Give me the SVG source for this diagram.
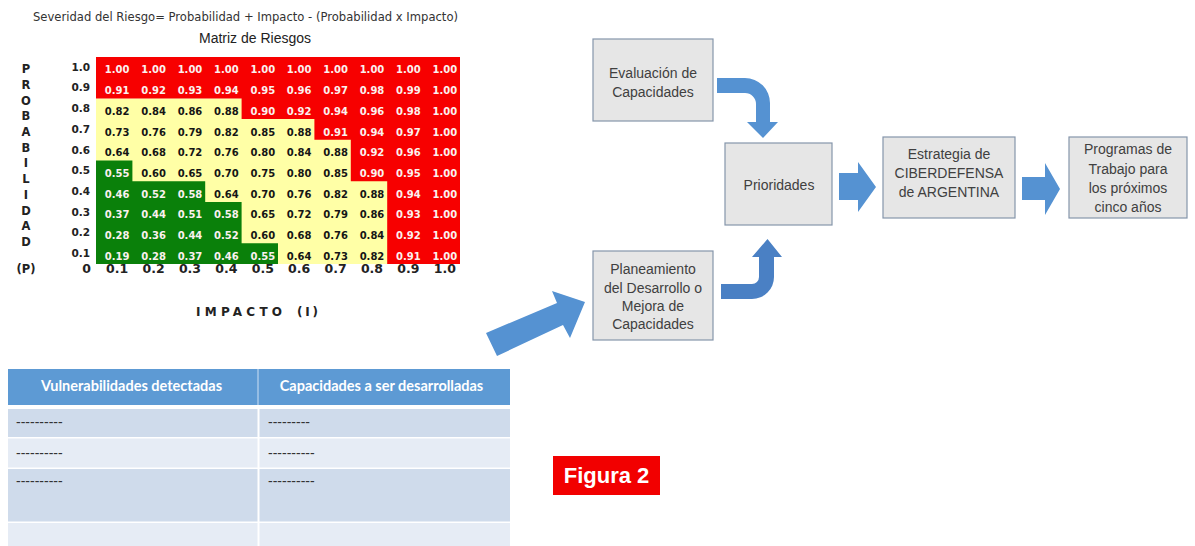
<svg xmlns="http://www.w3.org/2000/svg" width="1195" height="546" viewBox="0 0 1195 546">
<style>
.cell{font-family:"DejaVu Sans",sans-serif;font-weight:bold;font-size:10px;text-anchor:middle}
.lt{fill:#fbf1ef}
.dk{fill:#151515}
.rl{font-family:"DejaVu Sans",sans-serif;font-weight:bold;font-size:10.5px;text-anchor:end;fill:#222}
.cl{font-family:"DejaVu Sans",sans-serif;font-weight:bold;font-size:12.5px;text-anchor:middle;fill:#222}
.pl{font-family:"DejaVu Sans",sans-serif;font-weight:bold;font-size:11.5px;text-anchor:middle;fill:#222}
.box{fill:#e6e6e6;stroke:#8596ab;stroke-width:1.2}
.bt{font-family:"Liberation Sans",Arial,sans-serif;font-size:14px;fill:#404040;text-anchor:middle}
.arr{fill:#5592d2}
.th{font-family:Lato,"Liberation Sans",sans-serif;font-weight:bold;font-size:14.5px;fill:#ffffff;text-anchor:middle}
.ds{font-family:"Liberation Sans",Arial,sans-serif;font-size:14px;fill:#333}
</style>
<rect width="1195" height="546" fill="#ffffff"/>

<g id="matriz">
<text x="33" y="21" font-family="DejaVu Sans,sans-serif" font-size="12" fill="#333" textLength="425" lengthAdjust="spacingAndGlyphs">Severidad del Riesgo= Probabilidad + Impacto - (Probabilidad x Impacto)</text>
<text x="255" y="43" font-family="Liberation Sans,Arial,sans-serif" font-size="14" fill="#222" text-anchor="middle">Matriz de Riesgos</text>
<rect x="96" y="98.4" width="364" height="165.6" fill="#ffffa6"/>
<polygon fill="#f70000" points="96,57 460,57 460,264 387.2,264 387.2,181.2 350.8,181.2 350.8,139.8 314.4,139.8 314.4,119.1 241.6,119.1 241.6,98.4 96,98.4"/>
<polygon fill="#0a800a" points="96,160.5 132.4,160.5 132.4,181.2 205.2,181.2 205.2,201.9 241.6,201.9 241.6,243.3 278,243.3 278,264 96,264"/>
<g class="cell lt">
<text x="117.2" y="73.4">1.00</text><text x="153.6" y="73.4">1.00</text><text x="190" y="73.4">1.00</text><text x="226.4" y="73.4">1.00</text><text x="262.8" y="73.4">1.00</text><text x="299.2" y="73.4">1.00</text><text x="335.6" y="73.4">1.00</text><text x="372" y="73.4">1.00</text><text x="408.4" y="73.4">1.00</text><text x="444.8" y="73.4">1.00</text>
<text x="117.2" y="94.1">0.91</text><text x="153.6" y="94.1">0.92</text><text x="190" y="94.1">0.93</text><text x="226.4" y="94.1">0.94</text><text x="262.8" y="94.1">0.95</text><text x="299.2" y="94.1">0.96</text><text x="335.6" y="94.1">0.97</text><text x="372" y="94.1">0.98</text><text x="408.4" y="94.1">0.99</text><text x="444.8" y="94.1">1.00</text>
<text x="262.8" y="114.8">0.90</text><text x="299.2" y="114.8">0.92</text><text x="335.6" y="114.8">0.94</text><text x="372" y="114.8">0.96</text><text x="408.4" y="114.8">0.98</text><text x="444.8" y="114.8">1.00</text>
<text x="335.6" y="135.5">0.91</text><text x="372" y="135.5">0.94</text><text x="408.4" y="135.5">0.97</text><text x="444.8" y="135.5">1.00</text>
<text x="372" y="156.2">0.92</text><text x="408.4" y="156.2">0.96</text><text x="444.8" y="156.2">1.00</text>
<text x="117.2" y="176.9">0.55</text><text x="372" y="176.9">0.90</text><text x="408.4" y="176.9">0.95</text><text x="444.8" y="176.9">1.00</text>
<text x="117.2" y="197.6">0.46</text><text x="153.6" y="197.6">0.52</text><text x="190" y="197.6">0.58</text><text x="408.4" y="197.6">0.94</text><text x="444.8" y="197.6">1.00</text>
<text x="117.2" y="218.3">0.37</text><text x="153.6" y="218.3">0.44</text><text x="190" y="218.3">0.51</text><text x="226.4" y="218.3">0.58</text><text x="408.4" y="218.3">0.93</text><text x="444.8" y="218.3">1.00</text>
<text x="117.2" y="239">0.28</text><text x="153.6" y="239">0.36</text><text x="190" y="239">0.44</text><text x="226.4" y="239">0.52</text><text x="408.4" y="239">0.92</text><text x="444.8" y="239">1.00</text>
<text x="117.2" y="259.7">0.19</text><text x="153.6" y="259.7">0.28</text><text x="190" y="259.7">0.37</text><text x="226.4" y="259.7">0.46</text><text x="262.8" y="259.7">0.55</text><text x="408.4" y="259.7">0.91</text><text x="444.8" y="259.7">1.00</text>
</g>
<g class="cell dk">
<text x="117.2" y="114.8">0.82</text><text x="153.6" y="114.8">0.84</text><text x="190" y="114.8">0.86</text><text x="226.4" y="114.8">0.88</text>
<text x="117.2" y="135.5">0.73</text><text x="153.6" y="135.5">0.76</text><text x="190" y="135.5">0.79</text><text x="226.4" y="135.5">0.82</text><text x="262.8" y="135.5">0.85</text><text x="299.2" y="135.5">0.88</text>
<text x="117.2" y="156.2">0.64</text><text x="153.6" y="156.2">0.68</text><text x="190" y="156.2">0.72</text><text x="226.4" y="156.2">0.76</text><text x="262.8" y="156.2">0.80</text><text x="299.2" y="156.2">0.84</text><text x="335.6" y="156.2">0.88</text>
<text x="153.6" y="176.9">0.60</text><text x="190" y="176.9">0.65</text><text x="226.4" y="176.9">0.70</text><text x="262.8" y="176.9">0.75</text><text x="299.2" y="176.9">0.80</text><text x="335.6" y="176.9">0.85</text>
<text x="226.4" y="197.6">0.64</text><text x="262.8" y="197.6">0.70</text><text x="299.2" y="197.6">0.76</text><text x="335.6" y="197.6">0.82</text><text x="372" y="197.6">0.88</text>
<text x="262.8" y="218.3">0.65</text><text x="299.2" y="218.3">0.72</text><text x="335.6" y="218.3">0.79</text><text x="372" y="218.3">0.86</text>
<text x="262.8" y="239">0.60</text><text x="299.2" y="239">0.68</text><text x="335.6" y="239">0.76</text><text x="372" y="239">0.84</text>
<text x="299.2" y="259.7">0.64</text><text x="335.6" y="259.7">0.73</text><text x="372" y="259.7">0.82</text>
</g>
<g class="rl">
<text x="90" y="70.7">1.0</text><text x="90" y="91.4">0.9</text><text x="90" y="112.1">0.8</text><text x="90" y="132.8">0.7</text><text x="90" y="153.5">0.6</text><text x="90" y="174.2">0.5</text><text x="90" y="194.9">0.4</text><text x="90" y="215.6">0.3</text><text x="90" y="236.3">0.2</text><text x="90" y="257">0.1</text>
</g>
<g class="cl">
<text x="86.5" y="273">0</text>
<text x="117.2" y="273">0.1</text><text x="153.6" y="273">0.2</text><text x="190" y="273">0.3</text><text x="226.4" y="273">0.4</text><text x="262.8" y="273">0.5</text><text x="299.2" y="273">0.6</text><text x="335.6" y="273">0.7</text><text x="372" y="273">0.8</text><text x="408.4" y="273">0.9</text><text x="444.8" y="273">1.0</text>
</g>
<g class="pl">
<text x="26" y="73">P</text><text x="26" y="88.7">R</text><text x="26" y="104.5">O</text><text x="26" y="120.2">B</text><text x="26" y="135.9">A</text><text x="26" y="151.7">B</text><text x="26" y="167.4">I</text><text x="26" y="183.1">L</text><text x="26" y="198.8">I</text><text x="26" y="214.6">D</text><text x="26" y="230.3">A</text><text x="26" y="246">D</text>
<text x="26" y="273">(P)</text>
</g>
<text x="196" y="316" font-family="DejaVu Sans,sans-serif" font-weight="bold" font-size="12" fill="#222" textLength="86" lengthAdjust="spacing">IMPACTO</text>
<text x="297" y="316" font-family="DejaVu Sans,sans-serif" font-weight="bold" font-size="12" fill="#222" textLength="21" lengthAdjust="spacing">(I)</text>
</g>

<g id="tabla">
<rect x="8" y="369" width="502" height="36" fill="#5d9ad4"/>
<line x1="258" y1="369" x2="258" y2="405" stroke="#a9c8ea" stroke-width="1.5"/>
<text class="th" x="131.5" y="391">Vulnerabilidades detectadas</text>
<text class="th" x="381.5" y="391">Capacidades a ser desarrolladas</text>
<rect x="8" y="409" width="502" height="28" fill="#cfdbeb"/>
<rect x="8" y="438.5" width="502" height="29" fill="#e6ecf5"/>
<rect x="8" y="469" width="502" height="52.5" fill="#cfdbeb"/>
<rect x="8" y="523" width="502" height="23" fill="#e6ecf5"/>
<line x1="258.5" y1="409" x2="258.5" y2="546" stroke="#ffffff" stroke-width="2"/>
<text class="ds" x="16" y="427">----------</text>
<text class="ds" x="268" y="427">---------</text>
<text class="ds" x="16" y="458">----------</text>
<text class="ds" x="268" y="458">----------</text>
<text class="ds" x="16" y="486">----------</text>
<text class="ds" x="268" y="486">----------</text>
</g>

<g id="evaluacion">
<rect class="box" x="593" y="39" width="120" height="82"/>
<text class="bt" x="653" y="78">Evaluación de</text>
<text class="bt" x="653" y="97">Capacidades</text>
</g>
<g id="planeamiento">
<rect class="box" x="593" y="251" width="120" height="89"/>
<text class="bt" x="653" y="274">Planeamiento</text>
<text class="bt" x="653" y="293">del Desarrollo o</text>
<text class="bt" x="653" y="311">Mejora de</text>
<text class="bt" x="653" y="329">Capacidades</text>
</g>
<g id="prioridades">
<rect class="box" x="725" y="143" width="107" height="82"/>
<text class="bt" x="779" y="190">Prioridades</text>
</g>
<g id="estrategia">
<rect class="box" x="883" y="137" width="132" height="81"/>
<text class="bt" x="949" y="159">Estrategia de</text>
<text class="bt" x="949" y="178">CIBERDEFENSA</text>
<text class="bt" x="949" y="197">de ARGENTINA</text>
</g>
<g id="programas">
<rect class="box" x="1069" y="137" width="118" height="81"/>
<text class="bt" x="1128" y="154">Programas de</text>
<text class="bt" x="1128" y="174">Trabajo para</text>
<text class="bt" x="1128" y="193">los próximos</text>
<text class="bt" x="1128" y="212">cinco años</text>
</g>
<g id="figura">
<rect x="553" y="456" width="107" height="39" fill="#f20000"/>
<text x="606.5" y="483" font-family="Liberation Sans,Arial,sans-serif" font-weight="bold" font-size="22" fill="#ffffff" text-anchor="middle">Figura 2</text>
</g>

<g id="conectores">
<polygon class="arr" points="486,333 557,303 552,291 585,302 570,338 563,325 497,356"/>
<path class="arr" d="M717,78 L745,78 A25,25 0 0 1 770,103 L770,122 L778,122 L763,138 L747,122 L756,122 L756,104 A11,11 0 0 0 745,93 L717,93 Z"/>
<path fill="#4a80c4" d="M721,284 L752,284 A7,7 0 0 0 759,277 L759,257 L752,257 L767.5,239 L782,257 L774,257 L774,277 A22,22 0 0 1 752,299 L721,299 Z"/>
<polygon class="arr" points="839,173 858,173 858,162 876,187 858,212 858,200 839,200"/>
<polygon class="arr" points="1022,177 1045,177 1045,163 1060,189 1045,215 1045,200 1022,200"/>
</g>
</svg>
